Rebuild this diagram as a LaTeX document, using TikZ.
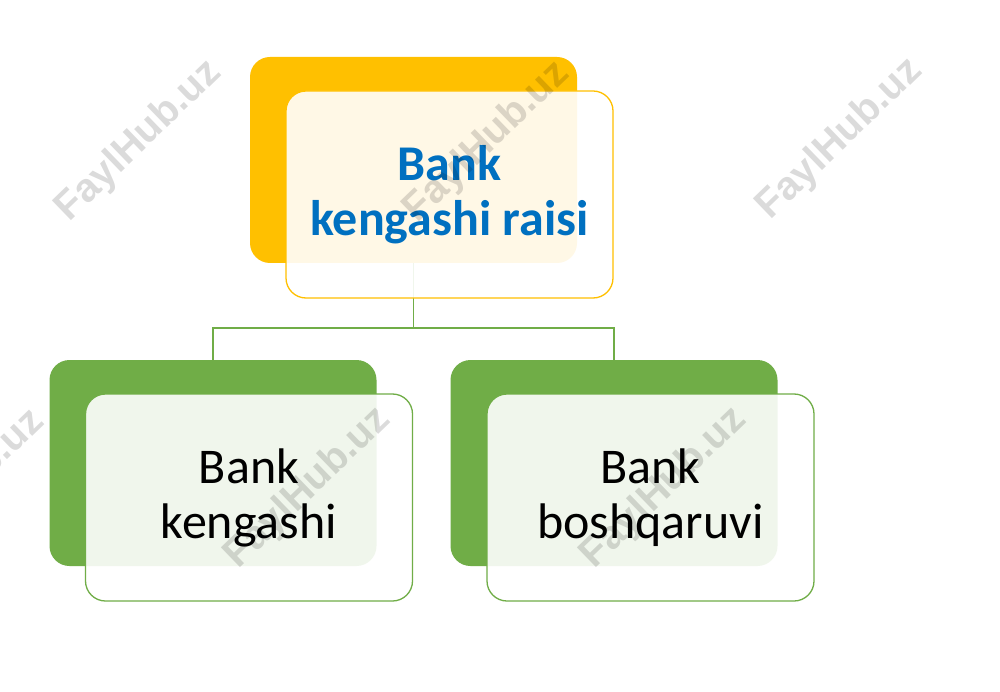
\documentclass[tikz,border=0pt]{standalone}
\usepackage{fontspec}
\setmainfont{Carlito}
\newfontfamily\wmfont{Liberation Sans}
\definecolor{gold}{HTML}{FFC000}
\definecolor{leaf}{HTML}{70AD47}
\definecolor{txtblue}{HTML}{0070C0}
\begin{document}
\begin{tikzpicture}[x=1pt,y=-1pt,
  backbox/.style={rectangle, rounded corners=20pt, inner sep=0pt, minimum width=327pt, minimum height=206pt},
  frontbox/.style={rectangle, rounded corners=20pt, inner sep=0pt, minimum width=327pt, minimum height=207pt, fill=white, fill opacity=0.9, text opacity=1, line width=1.3pt, align=center, font=\fontsize{50}{55}\selectfont},
  link/.style={draw=leaf, line width=1.2pt},
  wm/.style={rotate=44, text=black, text opacity=0.14, font=\wmfont\bfseries\fontsize{40}{40}\selectfont}]
\useasboundingbox (0,0) rectangle (1000,692);
\fill[white] (0,0) rectangle (1000,692);
% back boxes
\node[backbox, fill=gold] (tb) at (413.5,160) {};
\node[backbox, fill=leaf] (lb) at (213,463) {};
\node[backbox, fill=leaf] (rb) at (614,463) {};
% connectors
\coordinate (bus) at (0,328);
\draw[link] (tb.south) -- (tb.south |- bus) -| (lb.north);
\draw[link] (tb.south |- bus) -| (rb.north);
% front boxes
\node[frontbox, draw=gold, text=txtblue, font=\bfseries\fontsize{50}{55}\selectfont] (tf) at (449.5,194.5) {Bank\\kengashi raisi};
\node[frontbox, draw=leaf, text=black] (lf) at (249,497.5) {Bank\\kengashi};
\node[frontbox, draw=leaf, text=black] (rf) at (650.5,497.5) {Bank\\boshqaruvi};
% watermarks
\node[wm] (w1) at (139,141) {FaylHub.uz};
\node[wm] (w2) at (487,142) {FaylHub.uz};
\node[wm] (w3) at (840,139) {FaylHub.uz};
\node[wm] (w4) at (-38,490) {FaylHub.uz};
\node[wm] (w5) at (308,488) {FaylHub.uz};
\node[wm] (w6) at (664,488) {FaylHub.uz};
\end{tikzpicture}
\end{document}
